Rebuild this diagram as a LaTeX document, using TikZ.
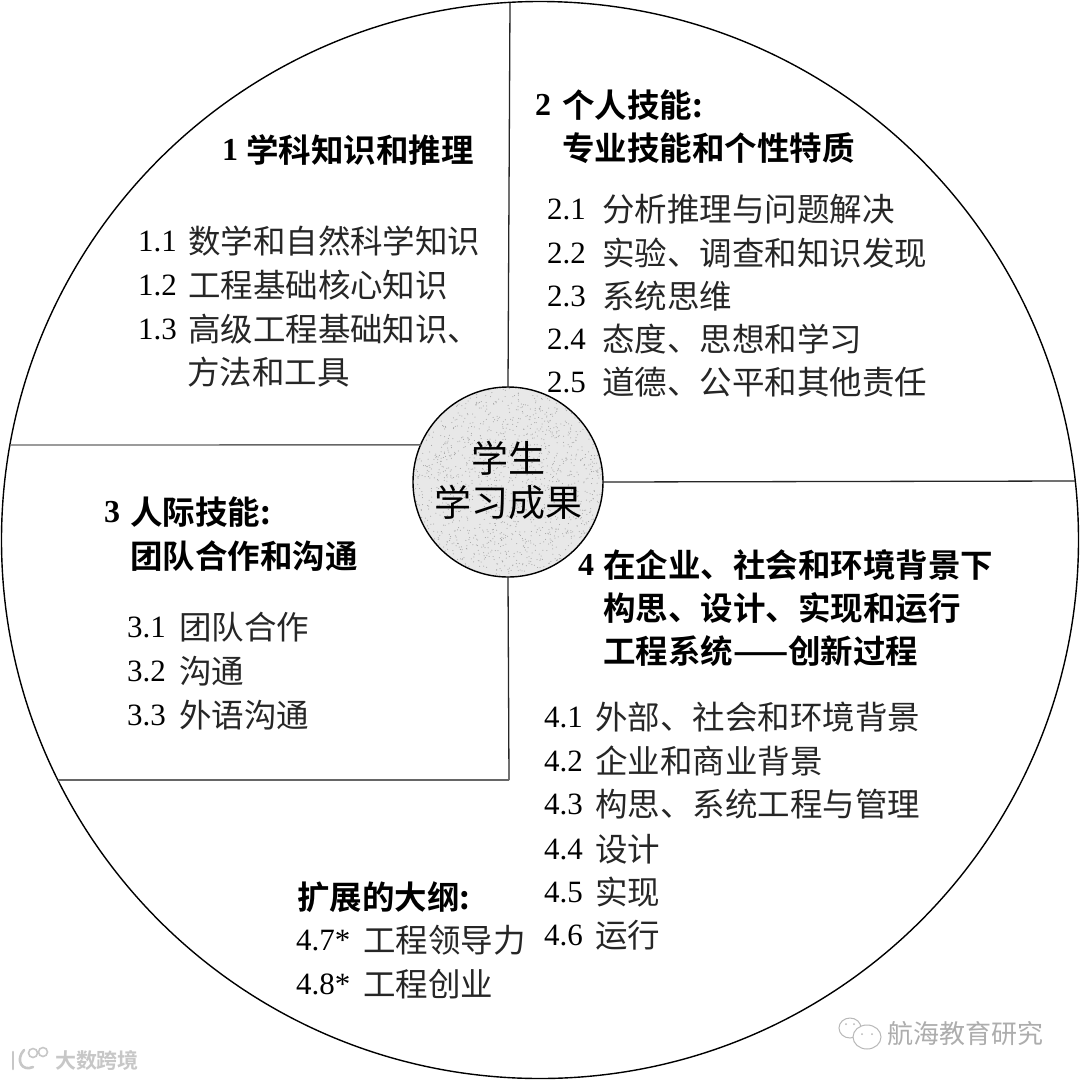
\documentclass[tikz,border=0pt]{standalone}
\usepackage{fontspec}
\setmainfont{Liberation Serif}
\newfontfamily\cjk{Noto Sans CJK SC}
\newfontfamily\cjkb{Noto Sans CJK SC Bold}
\newcommand{\numbox}[2]{\makebox[#1pt][l]{\raisebox{1.5pt}{\rmfamily\color{black}\fontsize{31}{31}\selectfont #2}}}
\newcommand{\headbox}[2]{\makebox[#1pt][l]{\raisebox{1.5pt}{\rmfamily\bfseries\fontsize{32}{32}\selectfont #2}}}
\tikzset{
  ring/.style={circle,draw=black,line width=1.4pt,inner sep=0,outer sep=0},
  divider/.style={draw=black!85,line width=1.3pt},
  softdivider/.style={draw=black!60,line width=1.4pt},
  itemtext/.style={anchor=base west,inner sep=0,outer sep=0,font=\fontsize{32.5}{32.5}\selectfont\cjk,text=black!85},
  headtext/.style={anchor=base west,inner sep=0,outer sep=0,font=\fontsize{32.5}{32.5}\selectfont\cjkb,text=black},
  hubtext/.style={anchor=base,inner sep=0,outer sep=0,font=\fontsize{37}{37}\selectfont\cjk,text=black},
  markgray/.style={anchor=base west,inner sep=0,outer sep=0,text=black!32},
  bubble/.style={draw=black!28,line width=1pt,fill=white}
}
\begin{document}
\begin{tikzpicture}[x=1pt,y=-1pt]
\useasboundingbox (0,0) rectangle (1080,1080);
\fill[white] (0,0) rectangle (1080,1080);
\node[ring,minimum size=1077pt] (outer) at (540,540) {};
% hub
\node[ring,minimum size=190pt,fill=black!9] (hub) at (508,482) {};
\begin{scope}
\clip (508,482) circle (94pt);
\pgfmathsetseed{4711}
\foreach \k in {1,...,1800}{
  \pgfmathsetmacro{\dx}{rand*95}
  \pgfmathsetmacro{\dy}{rand*95}
  \fill[black!38] (508+\dx,482+\dy) circle (0.5pt);
}
\end{scope}
% divider ends
\coordinate (top) at (510,3);
\coordinate (right) at (1075,481);
\coordinate (left) at (10,445);
\coordinate (bend) at (509,780);
\coordinate (lowleft) at (58,780);
\draw[divider] (hub.north) -- (top);
\draw[divider] (hub.east) -- (right);
\draw[softdivider] (hub.157) -- (left);
\draw[divider] (hub.south) -- (bend);
\draw[softdivider] (bend) -- (lowleft);
% hub text
\node[hubtext] (hubA) at (508,472) {学生};
\node[hubtext] (hubB) at (508,516) {学习成果};
% panel 1
\node[headtext] (h1) at (222,162) {\headbox{24}{1}学科知识和推理};
\node[itemtext] (i11) at (138,253) {\numbox{50}{1.1}数学和自然科学知识};
\node[itemtext] (i12) at (138,297) {\numbox{50}{1.2}工程基础核心知识};
\node[itemtext] (i13) at (138,341) {\numbox{50}{1.3}高级工程基础知识、};
\node[itemtext] (i13b) at (187,384) {方法和工具};
% panel 2
\node[headtext] (h2) at (535,117) {\headbox{27}{2}个人技能:};
\node[headtext] (h2b) at (562,160) {专业技能和个性特质};
\node[itemtext] (i21) at (547,221) {\numbox{55}{2.1}分析推理与问题解决};
\node[itemtext] (i22) at (547,265) {\numbox{55}{2.2}实验、调查和知识发现};
\node[itemtext] (i23) at (547,308) {\numbox{55}{2.3}系统思维};
\node[itemtext] (i24) at (547,351) {\numbox{55}{2.4}态度、思想和学习};
\node[itemtext] (i25) at (547,394) {\numbox{55}{2.5}道德、公平和其他责任};
% panel 3
\node[headtext] (h3) at (104,524) {\headbox{26}{3}人际技能:};
\node[headtext] (h3b) at (130,568) {团队合作和沟通};
\node[itemtext] (i31) at (127,639) {\numbox{52}{3.1}团队合作};
\node[itemtext] (i32) at (127,683) {\numbox{52}{3.2}沟通};
\node[itemtext] (i33) at (127,727) {\numbox{52}{3.3}外语沟通};
% panel 4
\node[headtext] (h4) at (578,577) {\headbox{25}{4}在企业、社会和环境背景下};
\node[headtext] (h4b) at (603,620) {构思、设计、实现和运行};
\node[headtext] (h4c) at (603,663) {工程系统——创新过程};
\node[itemtext] (i41) at (544,729) {\numbox{51}{4.1}外部、社会和环境背景};
\node[itemtext] (i42) at (544,773) {\numbox{51}{4.2}企业和商业背景};
\node[itemtext] (i43) at (544,816) {\numbox{51}{4.3}构思、系统工程与管理};
\node[itemtext] (i44) at (544,861) {\numbox{51}{4.4}设计};
\node[itemtext] (i45) at (544,904) {\numbox{51}{4.5}实现};
\node[itemtext] (i46) at (544,947) {\numbox{51}{4.6}运行};
% extended
\node[headtext] (ext) at (297,909) {扩展的大纲:};
\node[itemtext] (i47) at (296,952) {\numbox{67}{4.7*}工程领导力};
\node[itemtext] (i48) at (296,996) {\numbox{67}{4.8*}工程创业};
% watermarks
\node[markgray,font=\fontsize{21}{21}\selectfont\cjkb,text=black!22] (wmA) at (55,1068) {大数跨境};
\draw[black!22,line width=2.6pt,line cap=round] (13,1052) -- (13,1069);
\draw[black!22,line width=2.6pt,line cap=round] (33,1067) .. controls (22,1072) and (15,1060) .. (24,1050);
\draw[black!22,line width=1.6pt] (33,1053) circle (4.5pt) (43,1052) circle (4.5pt);
\node[markgray,font=\fontsize{26}{26}\selectfont\cjk] (wmB) at (887,1043) {航海教育研究};
\draw[bubble] (850,1028) ellipse (11pt and 10pt);
\draw[bubble] (867,1037) ellipse (14pt and 12pt);
\fill[black!28] (846,1024) circle (1pt) (854,1024) circle (1pt) (862,1034) circle (1pt) (872,1034) circle (1pt);
\end{tikzpicture}
\end{document}
